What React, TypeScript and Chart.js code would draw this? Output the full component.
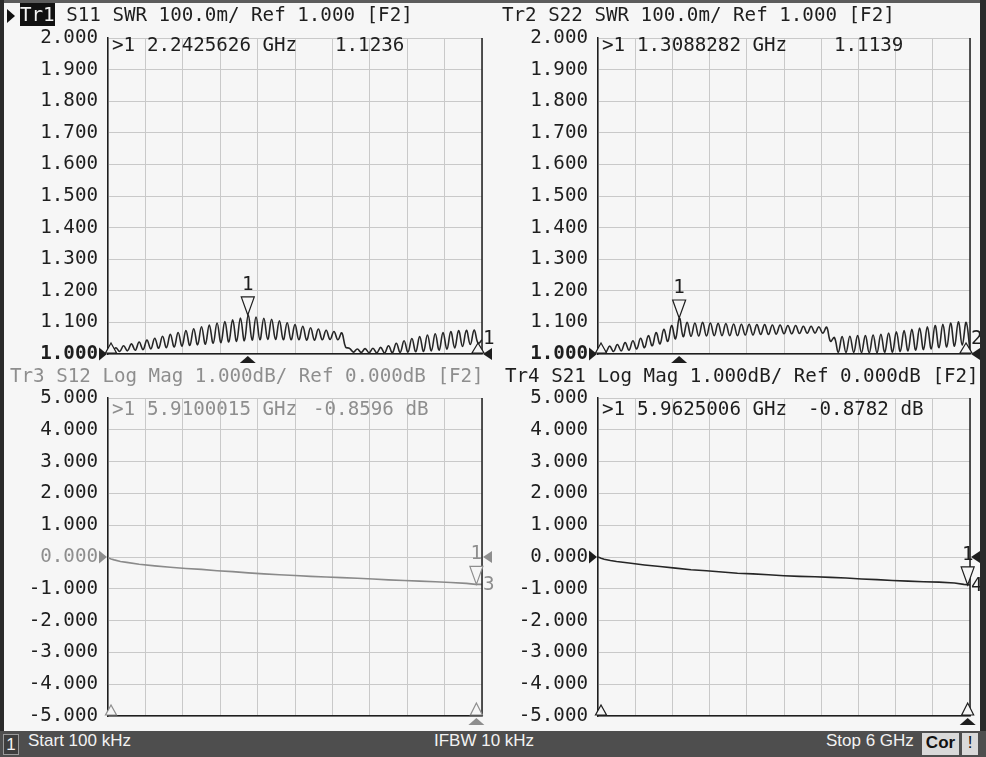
import React, { useEffect, useRef } from 'react';
import { Chart, registerables } from 'chart.js';

Chart.register(...registerables);

// ---------- sweep ----------
const START_GHZ = 0.0001;
const STOP_GHZ = 6;
const RIPPLE_STEP_GHZ = 0.0625; // sweep-point spacing of the SWR traces
const X_DIVISIONS = 10;

// ---------- Tr1  S11 SWR (one value per sweep point) ----------
const S11_SWR = [
  1.010, 1.005, 1.020, 1.008, 1.026, 1.010, 1.032, 1.012, 1.038, 1.014,
  1.044, 1.016, 1.050, 1.018, 1.056, 1.020, 1.062, 1.022, 1.068, 1.025,
  1.074, 1.027, 1.080, 1.029, 1.086, 1.031, 1.092, 1.034, 1.098, 1.036,
  1.103, 1.038, 1.108, 1.040, 1.114, 1.042, 1.124, 1.044, 1.117, 1.045,
  1.113, 1.046, 1.110, 1.046, 1.105, 1.045, 1.099, 1.045, 1.093, 1.045,
  1.088, 1.044, 1.083, 1.044, 1.079, 1.045, 1.075, 1.046, 1.071, 1.045,
  1.067, 1.022, 1.018, 1.006, 1.016, 1.005, 1.017, 1.004, 1.018, 1.004,
  1.021, 1.003, 1.026, 1.004, 1.034, 1.005, 1.042, 1.006, 1.049, 1.007,
  1.055, 1.008, 1.060, 1.010, 1.064, 1.012, 1.068, 1.015, 1.071, 1.019,
  1.074, 1.024, 1.075, 1.030, 1.076, 1.034, 1.045,
];

// ---------- Tr2  S22 SWR ----------
const S22_SWR = [
  1.010, 1.018, 1.006, 1.025, 1.008, 1.030, 1.010, 1.036, 1.012, 1.042,
  1.016, 1.050, 1.020, 1.058, 1.026, 1.068, 1.032, 1.078, 1.040, 1.090,
  1.048, 1.114, 1.055, 1.100, 1.056, 1.098, 1.057, 1.100, 1.057, 1.098,
  1.058, 1.097, 1.058, 1.096, 1.058, 1.095, 1.058, 1.094, 1.060, 1.094,
  1.060, 1.093, 1.062, 1.093, 1.062, 1.092, 1.063, 1.092, 1.064, 1.090,
  1.064, 1.090, 1.065, 1.088, 1.066, 1.088, 1.066, 1.086, 1.066, 1.085,
  1.040, 1.052, 1.005, 1.055, 1.005, 1.056, 1.005, 1.058, 1.004, 1.058,
  1.004, 1.060, 1.004, 1.062, 1.005, 1.066, 1.006, 1.070, 1.008, 1.074,
  1.010, 1.078, 1.012, 1.082, 1.014, 1.086, 1.016, 1.090, 1.020, 1.094,
  1.022, 1.098, 1.025, 1.102, 1.028, 1.100, 1.012,
];

// ---------- Tr3 S12 / Tr4 S21 Log Mag ----------
const LOG_FREQ_GHZ = [
  0.0001, 0.05, 0.1, 0.2, 0.3, 0.5, 0.75, 1.0, 1.25, 1.5, 1.75, 2.0, 2.25, 2.5,
  2.75, 3.0, 3.25, 3.5, 3.75, 4.0, 4.25, 4.5, 4.75, 5.0, 5.25, 5.5, 5.75, 5.9, 6.0,
];
const S12_DB = [
  -0.02, -0.06, -0.09, -0.14, -0.17, -0.23, -0.28, -0.32, -0.36, -0.39, -0.43, -0.46, -0.50, -0.53,
  -0.56, -0.58, -0.61, -0.63, -0.65, -0.67, -0.69, -0.72, -0.74, -0.76, -0.78, -0.80, -0.83, -0.86, -0.86,
];
const S21_DB = [
  0.00, -0.04, -0.07, -0.11, -0.14, -0.19, -0.25, -0.30, -0.35, -0.40, -0.43, -0.47, -0.51, -0.53,
  -0.56, -0.59, -0.61, -0.62, -0.64, -0.66, -0.69, -0.71, -0.74, -0.76, -0.78, -0.79, -0.82, -0.86, -0.88,
];

// ---------- ticks ----------
const SWR_TICKS = [1.0, 1.1, 1.2, 1.3, 1.4, 1.5, 1.6, 1.7, 1.8, 1.9, 2.0];
const DB_TICKS = [-5, -4, -3, -2, -1, 0, 1, 2, 3, 4, 5];

// ---------- markers ----------
const MARKER_S11 = { freq: 2.2425626, value: 1.1236 };
const MARKER_S22 = { freq: 1.3088282, value: 1.1139 };
const MARKER_S12 = { freq: 5.9100015, value: -0.8596 };
const MARKER_S21 = { freq: 5.9625006, value: -0.8782 };

// ---------- styling ----------
const MONO = "'DejaVu Sans Mono', monospace";
const NARROW = "'Liberation Sans Narrow', 'Liberation Sans', sans-serif";
const FS = 19.2;
const INK = '#1e1e1e';
const GREY = '#8e8e8e';
const GRID = '#c9c9c9';
const PAPER = '#f6f6f6';

function tri(ctx: CanvasRenderingContext2D, cx: number, cy: number, dir: string, w: number, h: number, fill: boolean, color: string) {
  ctx.beginPath();
  if (dir === 'down') { ctx.moveTo(cx, cy); ctx.lineTo(cx - w / 2, cy - h); ctx.lineTo(cx + w / 2, cy - h); }
  else if (dir === 'up') { ctx.moveTo(cx, cy); ctx.lineTo(cx - w / 2, cy + h); ctx.lineTo(cx + w / 2, cy + h); }
  else if (dir === 'right') { ctx.moveTo(cx, cy); ctx.lineTo(cx - w, cy - h / 2); ctx.lineTo(cx - w, cy + h / 2); }
  else { ctx.moveTo(cx, cy); ctx.lineTo(cx + w, cy - h / 2); ctx.lineTo(cx + w, cy + h / 2); }
  ctx.closePath();
  if (fill) { ctx.fillStyle = color; ctx.fill(); }
  else { ctx.fillStyle = PAPER; ctx.fill(); ctx.strokeStyle = color; ctx.lineWidth = 1.2; ctx.stroke(); }
}

const vnaPlugin = {
  id: 'vna',
  afterDatasetsDraw(chart: any, _args: any, o: any) {
    const { ctx, chartArea: a } = chart;
    const xs = chart.scales.x, ys = chart.scales.y;
    ctx.save();
    // right frame line
    ctx.strokeStyle = INK; ctx.lineWidth = 1.5;
    ctx.beginPath(); ctx.moveTo(a.right, a.top); ctx.lineTo(a.right, a.bottom); ctx.stroke();

    const ry = ys.getPixelForValue(o.ref);
    const px = xs.getPixelForValue(o.marker.freq);
    const py = ys.getPixelForValue(o.marker.value);
    const c = o.ink;
    ctx.font = `${FS}px ${MONO}`;
    ctx.textBaseline = 'middle';

    // reference level arrows
    tri(ctx, a.left - 1, ry, 'right', 8, 13, true, c);
    tri(ctx, a.right + 1, ry, 'left', 9, 12, true, c);
    // active marker
    tri(ctx, px, py, 'down', 13, 18, false, c);
    ctx.fillStyle = c; ctx.textAlign = 'center';
    ctx.fillText(o.marker.label, px, py - 30);
    // marker position on the frequency axis
    tri(ctx, px, a.bottom + 2, 'up', 16, 7, true, c);
    // stimulus start mark
    tri(ctx, xs.getPixelForValue(START_GHZ) + 3, a.bottom - 11, 'up', 11, 10, false, c);
    if (o.kind === 'swr') {
      tri(ctx, a.right - 4, a.bottom - 11, 'up', 12, 10, false, c);
      ctx.fillStyle = c; ctx.textAlign = 'left';
      ctx.fillText(o.endLabel, a.right + 1, a.bottom - 15);
    } else {
      tri(ctx, px, a.bottom - 13, 'up', 12, 12, false, c);
      ctx.fillStyle = c; ctx.textAlign = 'left';
      ctx.fillText(o.endLabel, a.right + 1, py + 1);
    }
    ctx.restore();
  },
};

type Spec = {
  canvas: { left: number; top: number; width: number; height: number };
  plot: { left: number; top: number; right: number; bottom: number };
  points: { x: number; y: number }[];
  trace: string;
  tension: number;
  ticks: number[];
  ref: number;
  refTick: { weight: string; color: string };
  vna: any;
};

function buildConfig(s: Spec): any {
  const yw = s.plot.left - s.canvas.left;
  const padTop = s.plot.top - s.canvas.top;
  const padBottom = s.canvas.top + s.canvas.height - s.plot.bottom;
  const padRight = s.canvas.left + s.canvas.width - s.plot.right;
  const min = s.ticks[0], max = s.ticks[s.ticks.length - 1];
  return {
    type: 'line',
    data: {
      datasets: [{
        data: s.points, borderColor: s.trace, borderWidth: 1.6, pointRadius: 0,
        tension: s.tension, fill: false,
      }],
    },
    options: {
      animation: false, responsive: false, events: [],
      layout: { padding: { left: 0, top: padTop, right: padRight, bottom: padBottom } },
      plugins: { legend: { display: false }, tooltip: { enabled: false }, vna: s.vna },
      scales: {
        x: {
          type: 'linear', min: START_GHZ, max: STOP_GHZ,
          afterBuildTicks: (sc: any) => {
            const t = [];
            for (let i = 0; i <= X_DIVISIONS; i++) t.push({ value: START_GHZ + ((STOP_GHZ - START_GHZ) * i) / X_DIVISIONS });
            sc.ticks = t;
          },
          ticks: { display: false },
          grid: { color: GRID, lineWidth: 1, drawTicks: false },
          border: { color: INK, width: 1.5 },
          afterFit: (sc: any) => {
            sc.height = 0;
            sc.paddingLeft = 0; sc.paddingRight = 0; sc.paddingTop = 0; sc.paddingBottom = 0;
          },
        },
        y: {
          type: 'linear', min, max,
          afterBuildTicks: (sc: any) => { sc.ticks = s.ticks.map((v) => ({ value: v })); },
          ticks: {
            padding: 10,
            callback: (v: number) => Number(v).toFixed(3),
            font: (ctx: any) => ({ family: MONO, size: FS, weight: ctx.tick && Math.abs(ctx.tick.value - s.ref) < 1e-9 ? s.refTick.weight : 'normal' }),
            color: (ctx: any) => (ctx.tick && Math.abs(ctx.tick.value - s.ref) < 1e-9 ? s.refTick.color : INK),
          },
          grid: { color: GRID, lineWidth: 1, drawTicks: false },
          border: { color: INK, width: 1.5 },
          afterFit: (sc: any) => {
            sc.width = yw;
            sc.paddingLeft = 0; sc.paddingRight = 0; sc.paddingTop = 0; sc.paddingBottom = 0;
          },
        },
      },
    },
    plugins: [vnaPlugin],
  };
}

function Panel({ spec }: { spec: Spec }) {
  const ref = useRef<HTMLCanvasElement>(null);
  useEffect(() => {
    const chart = new Chart(ref.current as HTMLCanvasElement, buildConfig(spec));
    return () => chart.destroy();
  }, []);
  const c = spec.canvas;
  return (
    <canvas ref={ref} width={c.width} height={c.height}
      style={{ position: 'absolute', left: c.left, top: c.top, width: c.width, height: c.height }} />
  );
}

const ripplePoints = (vals: number[]) => vals.map((v, i) => ({ x: i === 0 ? START_GHZ : i * RIPPLE_STEP_GHZ, y: v }));
const logPoints = (vals: number[]) => vals.map((v, i) => ({ x: LOG_FREQ_GHZ[i], y: v }));

const SPECS: Spec[] = [
  {
    canvas: { left: 0, top: 22, width: 496, height: 346 },
    plot: { left: 108, top: 38, right: 482, bottom: 354 },
    points: ripplePoints(S11_SWR), trace: '#262626', tension: 0.4, ticks: SWR_TICKS, ref: 1,
    refTick: { weight: 'bold', color: INK },
    vna: { kind: 'swr', ref: 1, ink: INK, marker: { ...MARKER_S11, label: '1' }, endLabel: '1' },
  },
  {
    canvas: { left: 496, top: 22, width: 490, height: 346 },
    plot: { left: 598, top: 38, right: 970, bottom: 354 },
    points: ripplePoints(S22_SWR), trace: '#262626', tension: 0.4, ticks: SWR_TICKS, ref: 1,
    refTick: { weight: 'bold', color: INK },
    vna: { kind: 'swr', ref: 1, ink: INK, marker: { ...MARKER_S22, label: '1' }, endLabel: '2' },
  },
  {
    canvas: { left: 0, top: 384, width: 496, height: 346 },
    plot: { left: 108, top: 398, right: 482, bottom: 716 },
    points: logPoints(S12_DB), trace: '#8a8a8a', tension: 0, ticks: DB_TICKS, ref: 0,
    refTick: { weight: 'normal', color: GREY },
    vna: { kind: 'log', ref: 0, ink: GREY, marker: { ...MARKER_S12, label: '1' }, endLabel: '3' },
  },
  {
    canvas: { left: 496, top: 384, width: 490, height: 346 },
    plot: { left: 598, top: 398, right: 970, bottom: 716 },
    points: logPoints(S21_DB), trace: '#262626', tension: 0, ticks: DB_TICKS, ref: 0,
    refTick: { weight: 'normal', color: INK },
    vna: { kind: 'log', ref: 0, ink: INK, marker: { ...MARKER_S21, label: '1' }, endLabel: '4' },
  },
];

const monoText: React.CSSProperties = { position: 'absolute', font: `${FS}px ${MONO}`, lineHeight: '20px', whiteSpace: 'pre' };

function Header({ left, top, tag, rest, color, active }: any) {
  return (
    <div style={{ ...monoText, left, top, color }}>
      <span style={active ? { background: '#111', color: '#f4f4f4' } : undefined}>{tag}</span>{rest}
    </div>
  );
}

function Readout({ left, top, freq, value, unit, vx, color }: any) {
  return (
    <>
      <div style={{ ...monoText, left: left + 4, top, color }}>&gt;1</div>
      <div style={{ ...monoText, left: left + 39, top, color }}>{freq + ' GHz'}</div>
      <div style={{ ...monoText, left: left + vx, top, color }}>{value + (unit ? ' ' + unit : '')}</div>
    </>
  );
}

export default function App() {
  const statusText: React.CSSProperties = {
    position: 'absolute', top: 0, height: 26, lineHeight: '26px', font: `17px ${NARROW}`, color: '#f2f2f2', whiteSpace: 'pre',
  };
  return (
    <div style={{ position: 'fixed', left: 0, top: 0, width: 986, height: 757, background: PAPER, overflow: 'hidden' }}>
      {SPECS.map((s, i) => <Panel key={i} spec={s} />)}

      {/* header lines */}
      <div style={{ position: 'absolute', left: 7, top: 9, width: 0, height: 0, borderTop: '7px solid transparent', borderBottom: '7px solid transparent', borderLeft: '8px solid #111' }} />
      <Header left={20} top={5} tag="Tr1" rest=" S11 SWR 100.0m/ Ref 1.000 [F2]" color={INK} active />
      <Header left={502} top={5} tag="Tr2" rest=" S22 SWR 100.0m/ Ref 1.000 [F2]" color={INK} />
      <Header left={10} top={366} tag="Tr3" rest=" S12 Log Mag 1.000dB/ Ref 0.000dB [F2]" color={GREY} />
      <Header left={505} top={366} tag="Tr4" rest=" S21 Log Mag 1.000dB/ Ref 0.000dB [F2]" color={INK} />

      {/* marker readouts */}
      <Readout left={108} top={35} freq="2.2425626" value="1.1236" vx={227} color={INK} />
      <Readout left={598} top={35} freq="1.3088282" value="1.1139" vx={236} color={INK} />
      <Readout left={108} top={399} freq="5.9100015" value="-0.8596" unit="dB" vx={205} color={GREY} />
      <Readout left={598} top={399} freq="5.9625006" value="-0.8782" unit="dB" vx={210} color={INK} />

      {/* frame */}
      <div style={{ position: 'absolute', left: 0, top: 0, width: 986, height: 3, background: '#5c5c5c' }} />
      <div style={{ position: 'absolute', left: 0, top: 0, width: 4, height: 757, background: '#2a2a2a' }} />
      <div style={{ position: 'absolute', left: 980, top: 0, width: 6, height: 757, background: '#2a2a2a' }} />

      {/* status bar */}
      <div style={{ position: 'absolute', left: 0, top: 731, width: 986, height: 26, background: '#4e4e4e' }}>
        <div style={{ ...statusText, left: 3, top: 3, height: 19, lineHeight: '19px', width: 14, textAlign: 'center', border: '1px solid #9a9a9a', background: '#3e3e3e' }}>1</div>
        <div style={{ ...statusText, left: 28 }}>Start 100 kHz</div>
        <div style={{ ...statusText, left: 434 }}>IFBW 10 kHz</div>
        <div style={{ ...statusText, left: 826 }}>Stop 6 GHz</div>
        <div style={{ ...statusText, left: 922, top: 2, height: 22, lineHeight: '22px', width: 37, textAlign: 'center', background: '#d9d9d9', color: '#111', fontWeight: 'bold' }}>Cor</div>
        <div style={{ ...statusText, left: 962, top: 2, height: 22, lineHeight: '22px', width: 16, textAlign: 'center', background: '#d9d9d9', color: '#111' }}>!</div>
      </div>
    </div>
  );
}
